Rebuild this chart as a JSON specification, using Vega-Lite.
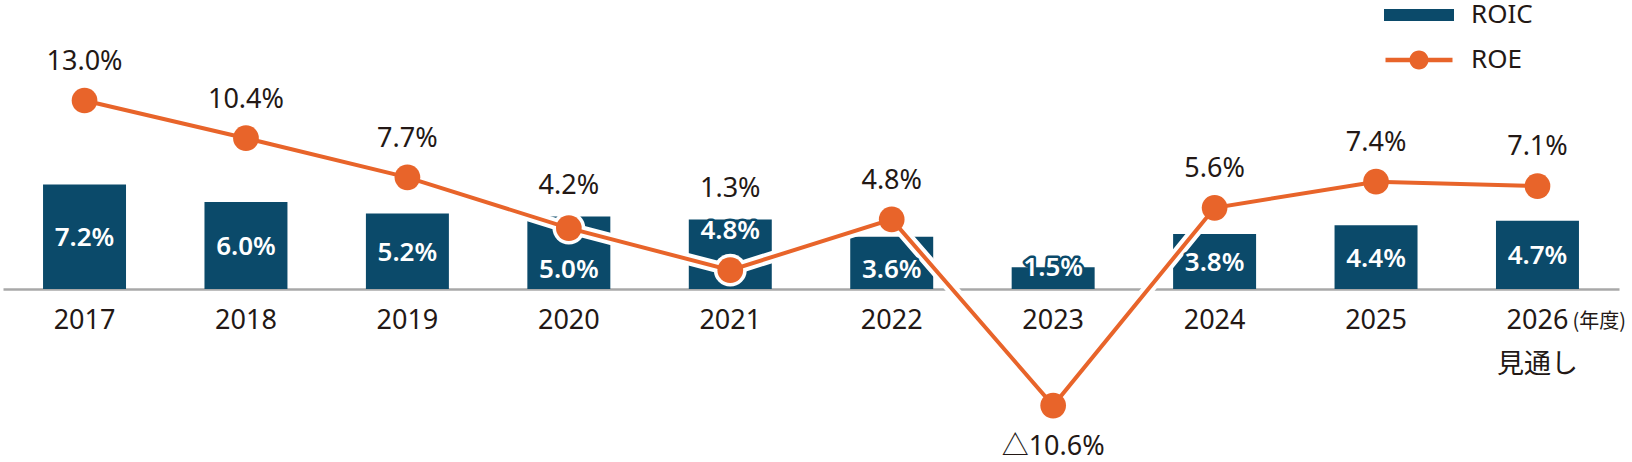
{
  "$schema": "https://vega.github.io/schema/vega-lite/v6.json",
  "width": 1616,
  "height": 289,
  "padding": {"left": 3, "top": 0, "right": 13, "bottom": 173},
  "autosize": {"type": "none"},
  "background": "white",
  "config": {"view": {"stroke": null}},
  "data": {
    "values": [
      {"Year": "2017", "ROIC": 7.2, "ROE": 13.0},
      {"Year": "2018", "ROIC": 6.0, "ROE": 10.4},
      {"Year": "2019", "ROIC": 5.2, "ROE": 7.7},
      {"Year": "2020", "ROIC": 5.0, "ROE": 4.2},
      {"Year": "2021", "ROIC": 4.8, "ROE": 1.3},
      {"Year": "2022", "ROIC": 3.6, "ROE": 4.8},
      {"Year": "2023", "ROIC": 1.5, "ROE": -10.6},
      {"Year": "2024", "ROIC": 3.8, "ROE": 5.6},
      {"Year": "2025", "ROIC": 4.4, "ROE": 7.4},
      {"Year": "2026", "ROIC": 4.7, "ROE": 7.1}
    ]
  },
  "transform": [
    {"calculate": "format(datum.ROIC, '.1f') + '%'", "as": "roic_label"},
    {"calculate": "datum.ROE < 0 ? '△' + format(-datum.ROE, '.1f') + '%' : format(datum.ROE, '.1f') + '%'", "as": "roe_label"},
    {"calculate": "datum.ROE < 0 ? datum.ROE - 3.8 : max(datum.ROE + 2.66, datum.ROIC + 2.1)", "as": "roe_pos"},
    {"calculate": "datum.ROIC < 2 ? datum.ROIC - 0.05 : (datum.ROE >= 0 && datum.ROE < datum.ROIC / 2) ? datum.ROIC - 0.83 : (datum.ROE > datum.ROIC / 2 && datum.ROE < datum.ROIC + 1.5) ? 1.33 : datum.ROIC / 2 - 0.1", "as": "roic_pos"}
  ],
  "encoding": {
    "x": {
      "field": "Year",
      "type": "ordinal",
      "scale": {"paddingInner": 0.486, "paddingOuter": 0.248},
      "axis": {
        "domainColor": "#a8a8a8",
        "domainWidth": 2.7,
        "ticks": false,
        "labelAngle": 0,
        "labelFont": "Noto Sans, Noto Sans CJK JP",
        "labelFontSize": 27,
        "labelColor": "#231815",
        "labelPadding": 18,
        "labelLineHeight": 44,
        "labelExpr": "datum.value == '2026' ? ['2026', '見通し'] : datum.label",
        "title": "(年度)",
        "titleX": 1569,
        "titleY": 32,
        "titleAlign": "left",
        "titleBaseline": "middle",
        "titleFont": "Noto Sans CJK JP",
        "titleFontSize": 20,
        "titleFontWeight": "normal",
        "titleColor": "#231815"
      }
    }
  },
  "layer": [
    {
      "mark": {"type": "bar"},
      "encoding": {
        "y": {"field": "ROIC", "type": "quantitative", "axis": null,
              "scale": {"domain": [-15, 0, 14], "range": [454, 289, 86], "nice": false, "zero": false}},
        "color": {
          "datum": "ROIC",
          "type": "nominal",
          "scale": {"domain": ["ROIC", "ROE"], "range": ["#0b4a6a", "#e8642a"]},
          "legend": {
            "orient": "none",
            "legendX": 1403,
            "legendY": 2,
            "title": null,
            "padding": 0,
            "symbolSize": 400,
            "symbolStrokeWidth": 0,
            "symbolType": "M-3.5,-0.6H3.5V0.6H-3.5Z",
            "labelFont": "Noto Sans",
            "labelFontSize": 26,
            "labelColor": "#231815",
            "labelOffset": 39,
            "rowPadding": 19,
            "encode": {
              "symbols": {
                "update": {
                  "shape": {"signal": "datum.value === 'ROE' ? 'M-3.35,-0.23H-0.9V0.23H-3.35Z M0.9,-0.23H3.35V0.23H0.9Z M-0.95,0A0.95,0.95 0 1 1 0.95,0A0.95,0.95 0 1 1 -0.95,0Z' : 'M-3.5,-0.6H3.5V0.6H-3.5Z'"},
                  "fill": {"signal": "datum.value === 'ROE' ? '#e8642a' : '#0b4a6a'"},
                  "opacity": {"value": 1},
                  "strokeWidth": {"value": 0}
                }
              }
            }
          }
        }
      }
    },
    {
      "mark": {"type": "line", "color": "white", "strokeWidth": 12},
      "encoding": {
        "y": {"field": "ROE", "type": "quantitative", "axis": null,
              "scale": {"domain": [-15, 0, 14], "range": [454, 289, 86], "nice": false, "zero": false}}
      }
    },
    {
      "mark": {"type": "circle", "color": "white", "opacity": 1, "size": 1075},
      "encoding": {
        "y": {"field": "ROE", "type": "quantitative", "axis": null,
              "scale": {"domain": [-15, 0, 14], "range": [454, 289, 86], "nice": false, "zero": false}}
      }
    },
    {
      "mark": {"type": "line", "strokeWidth": 4},
      "encoding": {
        "y": {"field": "ROE", "type": "quantitative", "axis": null,
              "scale": {"domain": [-15, 0, 14], "range": [454, 289, 86], "nice": false, "zero": false}},
        "color": {"datum": "ROE", "type": "nominal"}
      }
    },
    {
      "mark": {"type": "circle", "opacity": 1, "size": 660},
      "encoding": {
        "y": {"field": "ROE", "type": "quantitative", "axis": null,
              "scale": {"domain": [-15, 0, 14], "range": [454, 289, 86], "nice": false, "zero": false}},
        "color": {"datum": "ROE", "type": "nominal"}
      }
    },
    {
      "mark": {"type": "text", "baseline": "middle", "font": "Noto Sans, Noto Sans CJK JP", "fontSize": 27, "color": "#231815"},
      "encoding": {
        "y": {"field": "roe_pos", "type": "quantitative", "axis": null,
              "scale": {"domain": [-15, 0, 14], "range": [454, 289, 86], "nice": false, "zero": false}},
        "text": {"field": "roe_label"}
      }
    },
    {
      "mark": {"type": "text", "baseline": "middle", "font": "Noto Sans", "fontSize": 26, "fontWeight": 600, "fill": "#0b4a6a", "stroke": "#0b4a6a", "strokeWidth": 5, "strokeJoin": "round"},
      "encoding": {
        "y": {"field": "roic_pos", "type": "quantitative", "axis": null,
              "scale": {"domain": [-15, 0, 14], "range": [454, 289, 86], "nice": false, "zero": false}},
        "text": {"field": "roic_label"}
      }
    },
    {
      "mark": {"type": "text", "baseline": "middle", "font": "Noto Sans", "fontSize": 26, "fontWeight": 600, "color": "white"},
      "encoding": {
        "y": {"field": "roic_pos", "type": "quantitative", "axis": null,
              "scale": {"domain": [-15, 0, 14], "range": [454, 289, 86], "nice": false, "zero": false}},
        "text": {"field": "roic_label"}
      }
    }
  ]
}
